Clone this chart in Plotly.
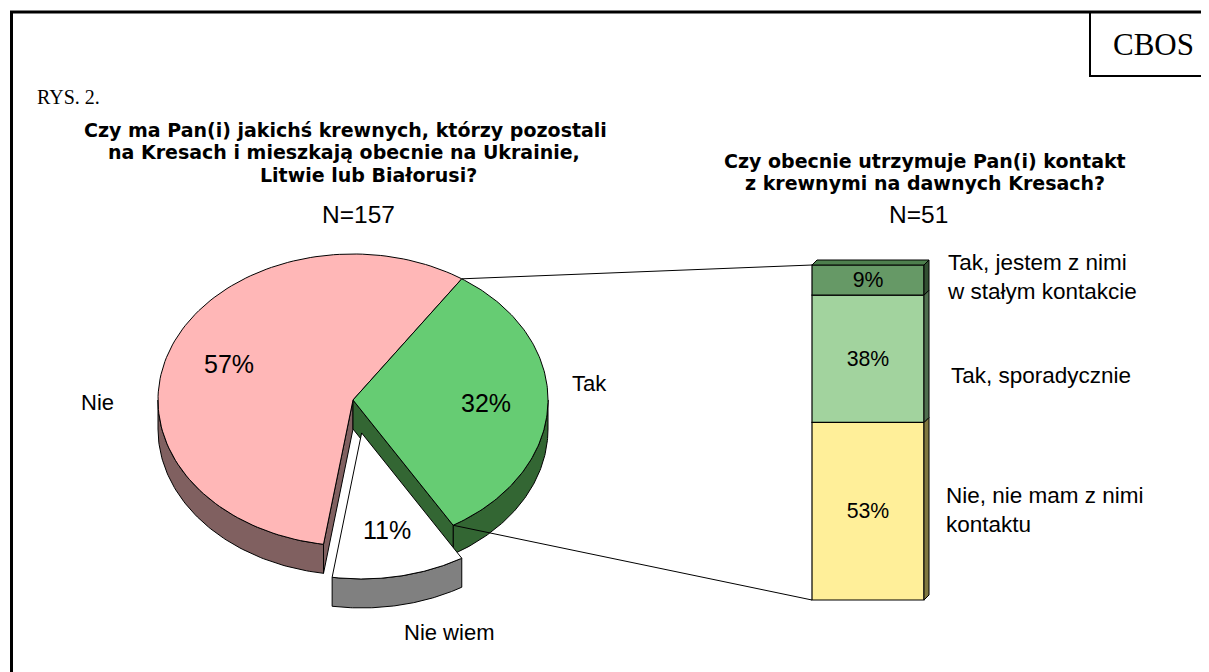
import numpy as np
import plotly.graph_objects as go

# ---------------- data ----------------
pie_labels = ["Nie", "Tak", "Nie wiem"]
pie_values = [57, 32, 11]
pie_pull = [0.0, 0.0, 0.23]

bar_labels = ["Nie, nie mam z nimi<br>kontaktu", "Tak, sporadycznie",
              "Tak, jestem z nimi<br>w stałym kontakcie"]
bar_values = [53, 38, 9]

title_left = ["Czy ma Pan(i) jakichś krewnych, którzy pozostali",
              "na Kresach i mieszkają obecnie na Ukrainie,",
              "Litwie lub Białorusi?"]
n_left = "N=157"
title_right = ["Czy obecnie utrzymuje Pan(i) kontakt",
               "z krewnymi na dawnych Kresach?"]
n_right = "N=51"
fig_label = "RYS. 2."
source_label = "CBOS"

# ---------------- style / geometry ----------------
W, H = 1209, 672
OFF = 8  # page body margin of the browser
SANS = "Liberation Sans, Arial, sans-serif"
BOLD = "DejaVu Sans, Liberation Sans, Arial, sans-serif"
SERIF = "Liberation Serif, Times New Roman, serif"

CX, CY = 353, 400
RX, RY = 195, 146
DEPTH = 29
START = 188.7
pie_top_colors = ["#FFB7B7", "#66CC73", "#FFFFFF"]
pie_side_colors = ["#806060", "#336633", "#808080"]

BAR_X, BAR_W = 868, 112
BAR_BOTTOM, BAR_PX = 600, 335
BAR_DX, BAR_DY = 5, 5
bar_front_colors = ["#FFEF99", "#A2D39E", "#669966"]
bar_side_colors = ["#807840", "#4F6F4F", "#335033"]
bar_topface_color = "#4D7F4D"

fig = go.Figure()


def poly(xs, ys, fill, lw=1):
    fig.add_trace(go.Scatter(x=list(xs), y=list(ys), mode="lines", fill="toself",
                             fillcolor=fill, line=dict(color="black", width=lw),
                             hoverinfo="skip", showlegend=False))


def P(theta, rho, ox, oy, dz=0.0):
    t = np.radians(theta)
    return ox + rho * RX * np.sin(t), oy - rho * RY * np.cos(t) + dz


total = float(sum(pie_values))
slices = []
cum = 0.0
for lab, v, pull, tc, sc in zip(pie_labels, pie_values, pie_pull, pie_top_colors, pie_side_colors):
    a1 = START + 360.0 * cum / total
    a2 = a1 + 360.0 * v / total
    mid = (a1 + a2) / 2
    ox, oy = P(mid, pull, CX, CY)
    slices.append(dict(label=lab, v=v, a1=a1, a2=a2, mid=mid, ox=ox, oy=oy,
                       pull=pull, tc=tc, sc=sc))
    cum += v


def front_ranges(a1, a2):
    out = []
    for k in range(-1, 3):
        lo, hi = 90 + 360 * k, 270 + 360 * k
        s, e = max(a1, lo), min(a2, hi)
        if e > s:
            out.append((s, e))
    return out


def wall(s, seg):
    a, b = seg
    th = np.linspace(a, b, 80)
    xt, yt = P(th, 1, s["ox"], s["oy"])
    xb, yb = P(th[::-1], 1, s["ox"], s["oy"], DEPTH)
    poly(np.r_[xt, xb, xt[0]], np.r_[yt, yb, yt[0]], s["sc"])


def radial_face(s, ang):
    x0, y0 = s["ox"], s["oy"]
    x1, y1 = P(ang, 1, x0, y0)
    poly([x0, x1, x1, x0, x0], [y0, y1, y1 + DEPTH, y0 + DEPTH, y0], s["sc"])


def top(s):
    th = np.linspace(s["a1"], s["a2"], 120)
    xa, ya = P(th, 1, s["ox"], s["oy"])
    poly(np.r_[s["ox"], xa, s["ox"]], np.r_[s["oy"], ya, s["oy"]], s["tc"])


n = len(slices)
flat = [s for s in slices if s["pull"] == 0]
pulled = [s for s in slices if s["pull"] > 0]

for s in flat:
    for seg in front_ranges(s["a1"], s["a2"]):
        wall(s, seg)
for i, s in enumerate(slices):
    if s["pull"] > 0:
        continue
    nxt = slices[(i + 1) % n]
    prv = slices[(i - 1) % n]
    if nxt["pull"] > 0 and np.cos(np.radians(s["a2"] + 90)) < 0:
        radial_face(s, s["a2"])
    if prv["pull"] > 0 and np.cos(np.radians(s["a1"] - 90)) < 0:
        radial_face(s, s["a1"])
for s in flat:
    top(s)
for s in pulled:
    for seg in front_ranges(s["a1"], s["a2"]):
        wall(s, seg)
    top(s)

for s in slices:
    tx, ty = P(s["mid"], 0.68, s["ox"], s["oy"])
    fig.add_annotation(x=tx, y=ty, text=f"{s['v']}%", showarrow=False,
                       font=dict(family=SANS, size=25, color="black"))

pie_label_pos = {"Nie": (97, 402), "Tak": (589, 383), "Nie wiem": (449, 632)}
for lab in pie_labels:
    x, y = pie_label_pos[lab]
    fig.add_annotation(x=x, y=y, text=lab, showarrow=False,
                       font=dict(family=SANS, size=22, color="black"))

# ---------------- stacked bar ----------------
scale = BAR_PX / float(sum(bar_values))
cum = 0.0
bar_bounds = []
for lab, v, fc in zip(bar_labels, bar_values, bar_front_colors):
    base = BAR_BOTTOM - cum * scale
    fig.add_trace(go.Bar(x=[BAR_X], y=[-v * scale], base=[base], width=BAR_W,
                         marker=dict(color=fc, line=dict(color="black", width=1.2)),
                         text=[f"{v}%"], textposition="inside", insidetextanchor="middle",
                         textangle=0,
                         textfont=dict(family=SANS, size=22, color="black"),
                         hoverinfo="skip", showlegend=False))
    bar_bounds.append((base, base - v * scale))
    cum += v

xl, xr = BAR_X - BAR_W / 2, BAR_X + BAR_W / 2
for (lo, hi), sc in zip(bar_bounds, bar_side_colors):
    poly([xr, xr + BAR_DX, xr + BAR_DX, xr, xr],
         [lo, lo - BAR_DY, hi - BAR_DY, hi, lo], sc, 1)
top_y = bar_bounds[-1][1]
poly([xl, xl + BAR_DX, xr + BAR_DX, xr, xl],
     [top_y, top_y - BAR_DY, top_y - BAR_DY, top_y, top_y], bar_topface_color, 1)

tak = slices[pie_labels.index("Tak")]
p1 = P(tak["a1"], 1, tak["ox"], tak["oy"])
p2 = P(tak["a2"], 1, tak["ox"], tak["oy"])
fig.add_trace(go.Scatter(x=[p1[0], xl], y=[p1[1], top_y], mode="lines",
                         line=dict(color="black", width=1), hoverinfo="skip", showlegend=False))
fig.add_trace(go.Scatter(x=[p2[0], xl], y=[p2[1], BAR_BOTTOM], mode="lines",
                         line=dict(color="black", width=1), hoverinfo="skip", showlegend=False))

bar_label_x = [944, 949, 945]
bar_label_y = [510, 375, 277]
for lab, x, y in zip(bar_labels, bar_label_x, bar_label_y):
    fig.add_annotation(x=x, y=y, text=lab, showarrow=False, xanchor="left", align="left",
                       font=dict(family=SANS, size=22.5, color="black"))

# ---------------- titles ----------------
for txt, (x, y) in zip(title_left, [(345, 129.5), (344, 152), (368, 174.5)]):
    fig.add_annotation(x=x, y=y, text=f"<b>{txt}</b>", showarrow=False,
                       font=dict(family=BOLD, size=19, color="black"))
fig.add_annotation(x=358, y=214, text=n_left, showarrow=False,
                   font=dict(family=SANS, size=24.5, color="black"))
for txt, (x, y) in zip(title_right, [(925, 160.5), (925, 183)]):
    fig.add_annotation(x=x, y=y, text=f"<b>{txt}</b>", showarrow=False,
                       font=dict(family=BOLD, size=19, color="black"))
fig.add_annotation(x=918, y=214, text=n_right, showarrow=False,
                   font=dict(family=SANS, size=24.5, color="black"))

fig.add_annotation(x=35, y=97, text=fig_label, showarrow=False, xanchor="left",
                   font=dict(family=SERIF, size=20, color="black"))
fig.add_annotation(x=1153, y=44, text=source_label, showarrow=False,
                   font=dict(family=SERIF, size=31, color="black"))

fig.add_shape(type="rect", x0=11.5, y0=12, x1=W + 20, y1=H + 20,
              line=dict(color="black", width=3))
fig.add_shape(type="rect", x0=1090, y0=12, x1=W + 20, y1=76,
              line=dict(color="black", width=2))

fig.update_layout(
    width=W - OFF, height=H - OFF, margin=dict(l=0, r=0, t=0, b=0),
    paper_bgcolor="white", plot_bgcolor="white",
    xaxis=dict(range=[OFF, W], visible=False, fixedrange=True),
    yaxis=dict(range=[H, OFF], visible=False, fixedrange=True),
    barmode="overlay", showlegend=False,
    uniformtext=dict(minsize=21, mode="show"),
)

fig.write_html("out.html")
